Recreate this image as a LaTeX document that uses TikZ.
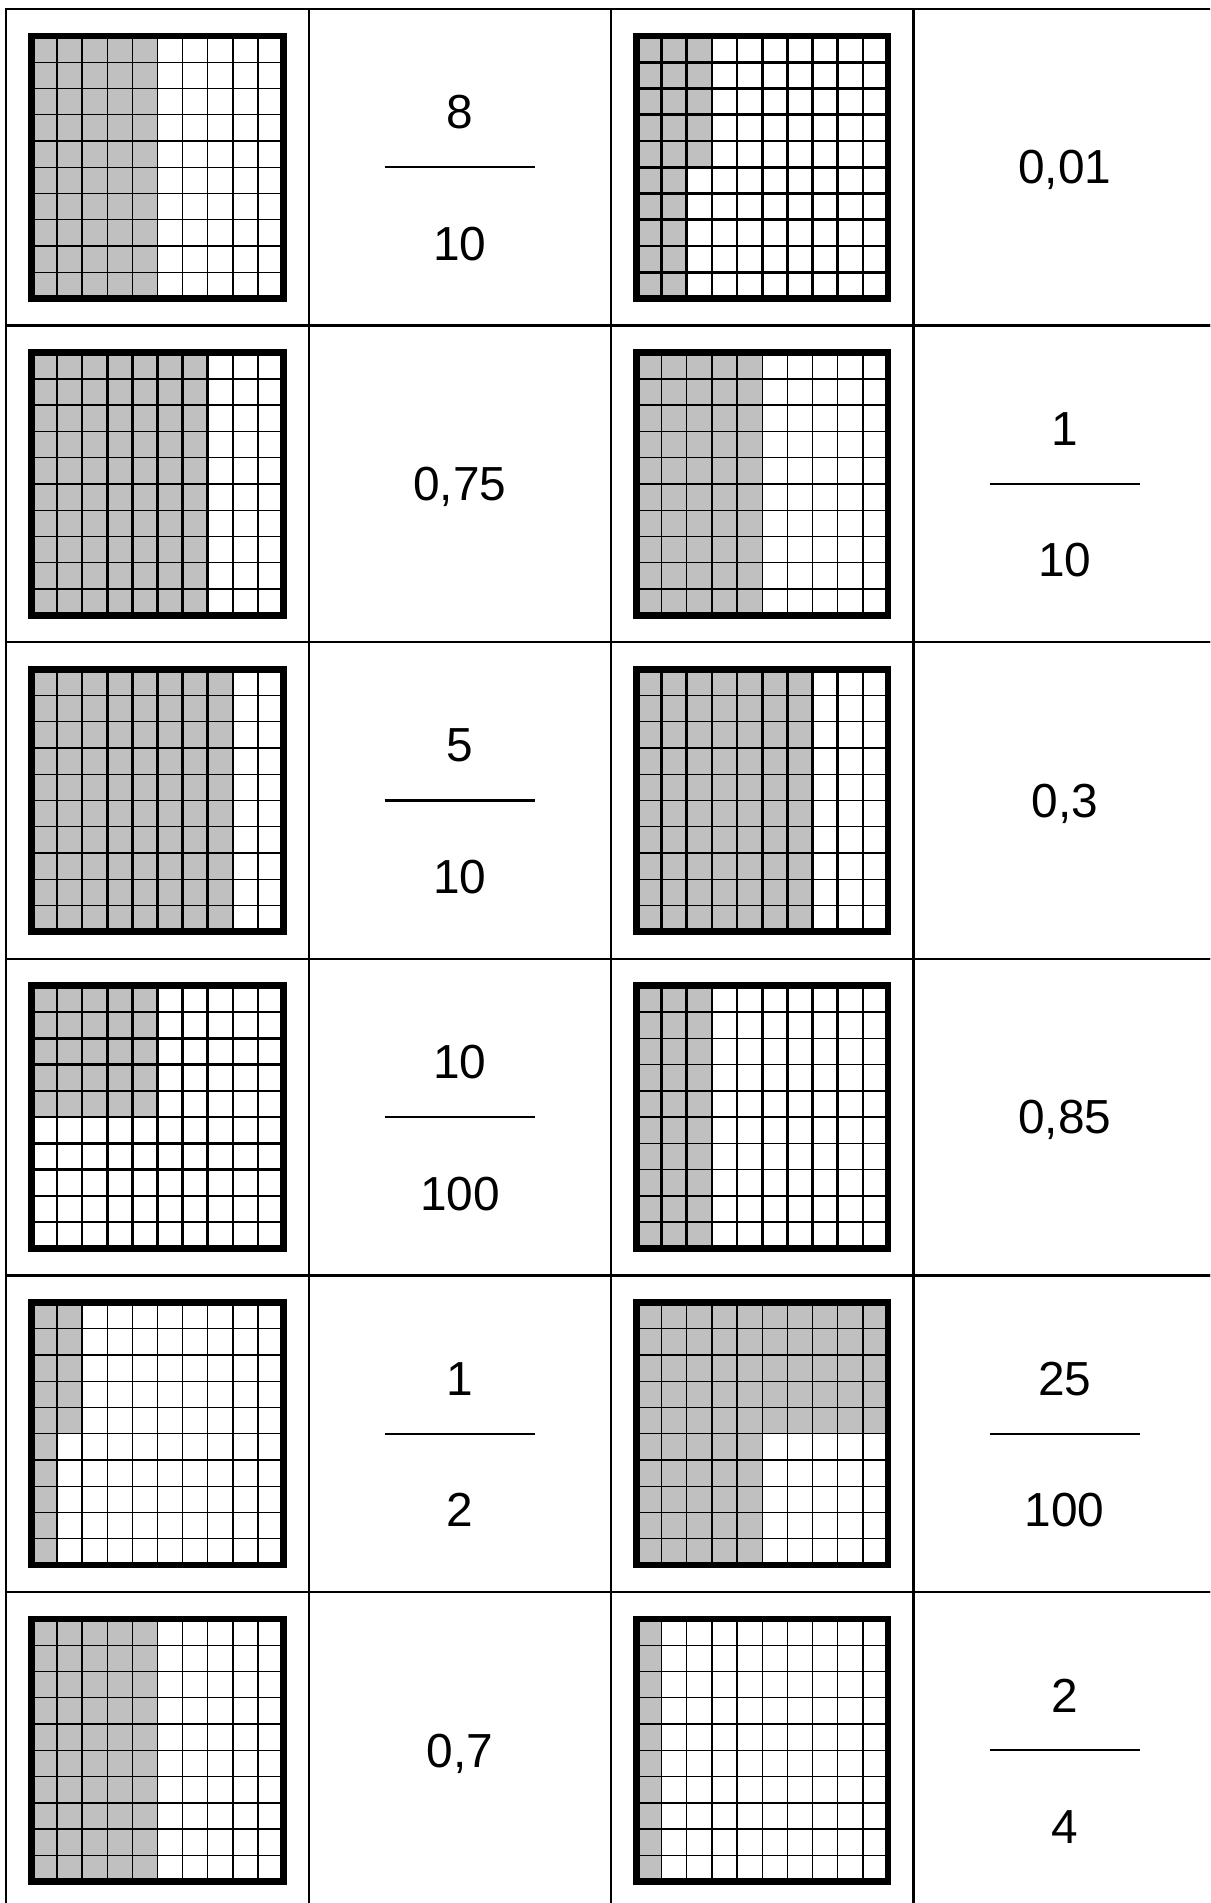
\documentclass[tikz,border=0pt]{standalone}
\usepackage{fontspec}
\setmainfont{Liberation Sans}
\usetikzlibrary{positioning}

\definecolor{shadegray}{RGB}{192,192,192}

% 10 x 10 grid inside box node #1, #2/#3 line styles for columns/rows, #4 shaded part
\newcommand{\hundredgrid}[4]{%
    \begin{scope}[shift={(#1.north west)}, x=0.629cm, y=-0.6565cm]
        \fill[shadegray] #4;
        \foreach \k in {1,...,9} {
            \draw[#2] (\k,0) -- (\k,10);
            \draw[#3] (0,\k) -- (10,\k);
        }
    \end{scope}
    \draw[gridframe] (#1.north west) rectangle (#1.south east);
}

% fraction in cell #1
\newcommand{\fracnote}[3]{%
    \node[valtext] (#1num) at ([yshift=1.375cm] #1.center) {#2};
    \node[valtext] (#1den) at ([yshift=-1.91cm] #1.center) {#3};
    \draw[fracbar] ([xshift=-1.88cm] #1.center) -- ([xshift=1.88cm] #1.center);
}

\begin{document}
\begin{tikzpicture}[
                        tablecell/.style={
                            draw,
                            line width=1.63pt,
                            minimum width=7.56cm,
                            minimum height=7.915cm,
                            inner sep=0pt,
                            outer sep=0pt
                        },
                        gridbox/.style={
                            minimum width=6.29cm,
                            minimum height=6.565cm,
                            inner sep=0pt,
                            outer sep=0pt
                        },
                        gridframe/.style={line width=4.75pt},
                        thinline/.style={line width=0.94pt},
                        thickline/.style={line width=1.9pt},
                        valtext/.style={
                            font=\fontsize{34}{40}\selectfont,
                            text depth=0pt,
                            inner sep=0pt
                        },
                        fracbar/.style={line width=1.63pt}
                    ]

                    % Page (table runs off at right and bottom)
                    \useasboundingbox (0,0) rectangle (30.25,-47.575);
                    \clip (0,0) rectangle (30.25,-47.575);

                    % Table cells
                    \node[tablecell, anchor=north west] (c11) at (0.1575,-0.225) {};
                    \node[tablecell, right=0pt of c11] (c12) {};
                    \node[tablecell, right=0pt of c12] (c13) {};
                    \node[tablecell, right=0pt of c13] (c14) {};

                    \node[tablecell, below=0pt of c11] (c21) {};
                    \node[tablecell, right=0pt of c21] (c22) {};
                    \node[tablecell, right=0pt of c22] (c23) {};
                    \node[tablecell, right=0pt of c23] (c24) {};

                    \node[tablecell, below=0pt of c21] (c31) {};
                    \node[tablecell, right=0pt of c31] (c32) {};
                    \node[tablecell, right=0pt of c32] (c33) {};
                    \node[tablecell, right=0pt of c33] (c34) {};

                    \node[tablecell, below=0pt of c31] (c41) {};
                    \node[tablecell, right=0pt of c41] (c42) {};
                    \node[tablecell, right=0pt of c42] (c43) {};
                    \node[tablecell, right=0pt of c43] (c44) {};

                    \node[tablecell, below=0pt of c41] (c51) {};
                    \node[tablecell, right=0pt of c51] (c52) {};
                    \node[tablecell, right=0pt of c52] (c53) {};
                    \node[tablecell, right=0pt of c53] (c54) {};

                    \node[tablecell, below=0pt of c51] (c61) {};
                    \node[tablecell, right=0pt of c61] (c62) {};
                    \node[tablecell, right=0pt of c62] (c63) {};
                    \node[tablecell, right=0pt of c63] (c64) {};

                    % Row 1
                    \node[gridbox] (g11) at (c11) {};
                    \hundredgrid{g11}{thinline}{thinline}{(0,0) rectangle (5,10)}
                    \fracnote{c12}{8}{10}
                    \node[gridbox] (g13) at (c13) {};
                    \hundredgrid{g13}{thickline}{thickline}{(0,0) -- (3,0) -- (3,5) -- (2,5) -- (2,10) -- (0,10) -- cycle}
                    \node[valtext] (v14) at (c14) {0,01};

                    % Row 2
                    \node[gridbox] (g21) at (c21) {};
                    \hundredgrid{g21}{thickline}{thinline}{(0,0) rectangle (7,10)}
                    \node[valtext] (v22) at (c22) {0,75};
                    \node[gridbox] (g23) at (c23) {};
                    \hundredgrid{g23}{thinline}{thinline}{(0,0) rectangle (5,10)}
                    \fracnote{c24}{1}{10}

                    % Row 3
                    \node[gridbox] (g31) at (c31) {};
                    \hundredgrid{g31}{thickline}{thinline}{(0,0) rectangle (8,10)}
                    \fracnote{c32}{5}{10}
                    \node[gridbox] (g33) at (c33) {};
                    \hundredgrid{g33}{thickline}{thinline}{(0,0) rectangle (7,10)}
                    \node[valtext] (v34) at (c34) {0,3};

                    % Row 4
                    \node[gridbox] (g41) at (c41) {};
                    \hundredgrid{g41}{thickline}{thickline}{(0,0) rectangle (5,5)}
                    \fracnote{c42}{10}{100}
                    \node[gridbox] (g43) at (c43) {};
                    \hundredgrid{g43}{thickline}{thinline}{(0,0) rectangle (3,10)}
                    \node[valtext] (v44) at (c44) {0,85};

                    % Row 5
                    \node[gridbox] (g51) at (c51) {};
                    \hundredgrid{g51}{thinline}{thinline}{(0,0) -- (2,0) -- (2,5) -- (1,5) -- (1,10) -- (0,10) -- cycle}
                    \fracnote{c52}{1}{2}
                    \node[gridbox] (g53) at (c53) {};
                    \hundredgrid{g53}{thinline}{thinline}{(0,0) -- (10,0) -- (10,5) -- (5,5) -- (5,10) -- (0,10) -- cycle}
                    \fracnote{c54}{25}{100}

                    % Row 6
                    \node[gridbox] (g61) at (c61) {};
                    \hundredgrid{g61}{thinline}{thinline}{(0,0) rectangle (5,10)}
                    \node[valtext] (v62) at (c62) {0,7};
                    \node[gridbox] (g63) at (c63) {};
                    \hundredgrid{g63}{thinline}{thinline}{(0,0) rectangle (1,10)}
                    \fracnote{c64}{2}{4}
                    \end{tikzpicture}
\end{document}
